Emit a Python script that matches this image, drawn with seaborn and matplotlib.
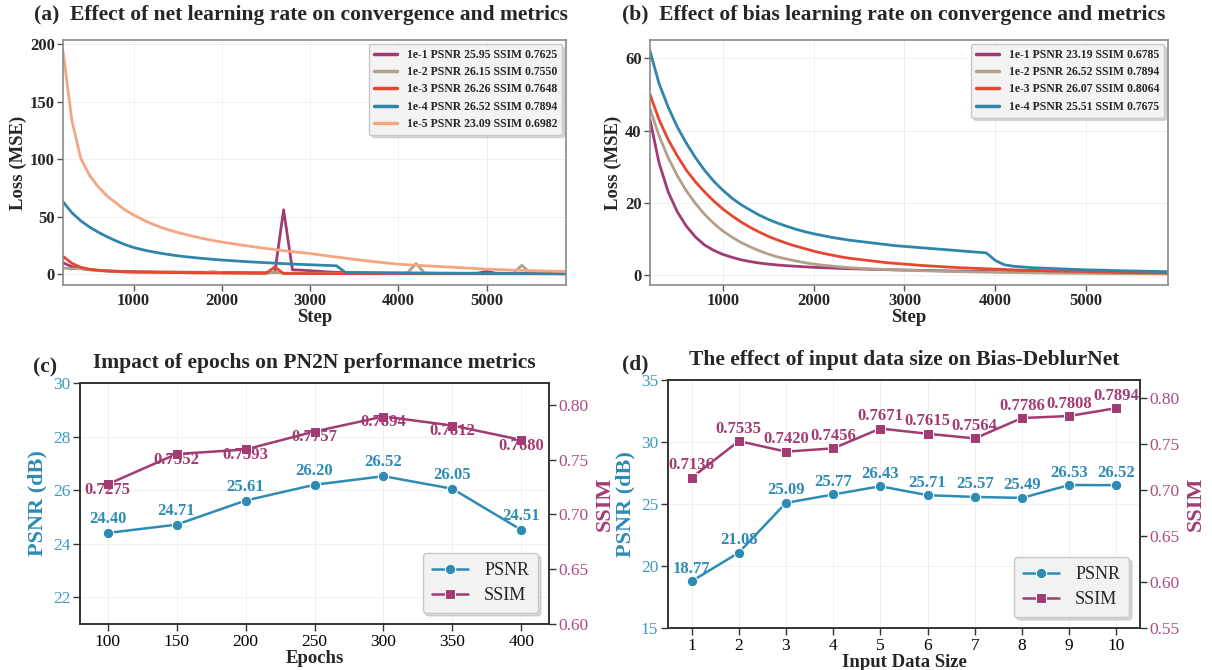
import numpy as np
import pandas as pd
import matplotlib.pyplot as plt
import seaborn as sns

sns.set_style("whitegrid", {"grid.color": "#ededed", "grid.linestyle": "-"})
plt.rcParams['font.family'] = ['Liberation Serif', 'DejaVu Serif']

# ---------------- data ----------------
steps = [200, 300, 400, 500, 600, 700, 800, 900, 1000, 1100,
         1200, 1300, 1400, 1500, 1600, 1700, 1800, 1900, 2000, 2100,
         2200, 2300, 2400, 2500, 2600, 2700, 2800, 2900, 3000, 3100,
         3200, 3300, 3400, 3500, 3600, 3700, 3800, 3900, 4000, 4100,
         4200, 4300, 4400, 4500, 4600, 4700, 4800, 4900, 5000, 5100,
         5200, 5300, 5400, 5500, 5600, 5700, 5800, 5900]

# (a) net learning rate
net_lr1 = [10, 6.5, 4.8, 3.9, 3.3, 2.9, 2.6, 2.4, 2.2, 2.1,
           2.0, 1.9, 1.85, 1.8, 1.75, 1.7, 1.65, 1.6, 1.55, 1.5,
           1.45, 1.4, 1.35, 1.3, 1.3, 56, 3.8, 3.5, 3.0, 2.5,
           2.0, 1.6, 1.4, 1.3, 1.2, 1.15, 1.1, 1.05, 1.0, 0.95,
           0.9, 0.9, 0.85, 0.85, 0.8, 0.8, 0.8, 0.9, 2.4, 0.9,
           0.75, 0.7, 0.7, 0.65, 0.65, 0.6, 0.6, 0.6]
net_lr2 = [5.5, 4.6, 4.9, 4.0, 3.1, 2.7, 2.2, 1.9, 1.7, 1.6,
           1.9, 1.5, 1.4, 1.5, 1.3, 1.2, 1.2, 2.3, 1.2, 1.1,
           1.0, 1.0, 0.95, 0.9, 1.6, 0.9, 0.85, 0.85, 0.8, 0.8,
           0.8, 0.75, 0.75, 0.7, 0.7, 0.7, 0.7, 0.65, 0.65, 0.9,
           9.2, 0.9, 0.6, 0.6, 0.6, 0.55, 0.55, 0.55, 0.5, 0.5,
           0.5, 0.8, 7.7, 0.8, 0.45, 0.45, 0.45, 0.4]
net_lr3 = [15.5, 9.5, 6, 4.3, 3.4, 2.8, 2.4, 2.1, 1.9, 1.8,
           1.7, 1.6, 1.5, 1.4, 1.3, 1.2, 1.15, 1.1, 1.0, 0.95,
           0.9, 0.85, 0.8, 0.8, 6.2, 0.6, 0.55, 0.5, 0.5, 0.48,
           0.46, 0.45, 0.44, 0.43, 0.42, 0.41, 0.4, 0.39, 0.38, 0.37,
           0.36, 0.35, 0.35, 0.34, 0.34, 0.33, 0.33, 0.32, 0.32, 0.31,
           0.31, 0.3, 0.3, 0.3, 0.29, 0.29, 0.28, 0.28]
net_lr4 = [63, 53.5, 46.5, 41, 36.5, 32.5, 29, 25.8, 23.2, 21.3,
           19.7, 18.3, 17.1, 16.0, 15.1, 14.3, 13.6, 12.9, 12.3, 11.8,
           11.3, 10.8, 10.4, 10.0, 9.6, 9.2, 8.8, 8.5, 8.2, 7.9,
           7.6, 7.3, 1.5, 1.4, 1.3, 1.25, 1.2, 1.1, 1.05, 1.0,
           0.95, 0.9, 0.85, 0.8, 0.8, 0.75, 0.7, 0.7, 0.65, 0.6,
           0.6, 0.55, 0.55, 0.5, 0.5, 0.5, 0.45, 0.45]
net_lr5 = [194, 134, 101, 86, 76, 68, 62, 56, 51.5, 47.5,
           44, 41, 38.5, 36.3, 34.3, 32.5, 30.8, 29.3, 28, 26.8,
           25.6, 24.5, 23.4, 22.4, 21.4, 20.5, 19.6, 18.8, 18, 16.9,
           15.9, 14.9, 13.9, 12.9, 12, 11.1, 10.3, 9.5, 8.7, 8.2,
           7.8, 7.3, 6.9, 6.5, 6.1, 5.7, 5.3, 4.8, 4.4, 4.1,
           3.8, 3.5, 3.3, 3.1, 2.9, 2.7, 2.5, 2.3]
net_labels = ["1e-1 PSNR 25.95 SSIM 0.7625", "1e-2 PSNR 26.15 SSIM 0.7550",
              "1e-3 PSNR 26.26 SSIM 0.7648", "1e-4 PSNR 26.52 SSIM 0.7894",
              "1e-5 PSNR 23.09 SSIM 0.6982"]

# (b) bias learning rate
bias_lr1 = [43, 31, 23, 17.5, 13.5, 10.5, 8.3, 6.8, 5.7, 4.9,
            4.2, 3.7, 3.3, 3.0, 2.75, 2.55, 2.4, 2.25, 2.1, 2.0,
            1.9, 1.8, 1.72, 1.65, 1.58, 1.5, 1.45, 1.4, 1.35, 1.3,
            1.25, 1.2, 1.15, 1.1, 1.06, 1.02, 0.98, 0.94, 0.9, 0.87,
            0.84, 0.81, 0.78, 0.75, 0.72, 0.7, 0.68, 0.66, 0.64, 0.62,
            0.6, 0.58, 0.56, 0.54, 0.52, 0.5, 0.48, 0.46]
bias_lr2 = [46, 38.5, 32.5, 27.5, 23.3, 19.8, 16.8, 14.3, 12.2, 10.5,
            9.0, 7.8, 6.7, 5.8, 5.0, 4.4, 3.9, 3.4, 3.0, 2.7,
            2.45, 2.2, 2.0, 1.85, 1.7, 1.6, 1.5, 1.4, 1.3, 1.22,
            1.15, 1.08, 1.02, 0.96, 0.9, 0.85, 0.8, 0.76, 0.72, 0.68,
            0.64, 0.6, 0.57, 0.54, 0.51, 0.48, 0.46, 0.44, 0.42, 0.4,
            0.38, 0.36, 0.34, 0.33, 0.32, 0.31, 0.3, 0.29]
bias_lr3 = [50, 43, 37.5, 33, 29, 25.8, 23, 20.5, 18.3, 16.4,
            14.7, 13.2, 11.9, 10.7, 9.7, 8.8, 8.0, 7.3, 6.6, 6.0,
            5.5, 5.0, 4.6, 4.3, 4.0, 3.7, 3.4, 3.2, 3.0, 2.8,
            2.6, 2.45, 2.3, 2.15, 2.0, 1.9, 1.8, 1.7, 1.6, 1.5,
            1.4, 1.3, 1.25, 1.2, 1.1, 1.05, 1.0, 0.95, 0.9, 0.85,
            0.8, 0.75, 0.7, 0.65, 0.6, 0.58, 0.55, 0.5]
bias_lr4 = [62, 53, 46.5, 41, 36.5, 32.5, 29, 26, 23.5, 21.3,
            19.5, 18, 16.6, 15.4, 14.4, 13.5, 12.7, 12, 11.4, 10.9,
            10.4, 10, 9.6, 9.3, 9, 8.7, 8.4, 8.1, 7.9, 7.7,
            7.5, 7.3, 7.1, 6.9, 6.7, 6.5, 6.3, 6.1, 4.0, 2.8,
            2.4, 2.2, 2.0, 1.9, 1.8, 1.7, 1.6, 1.5, 1.4, 1.35,
            1.3, 1.2, 1.15, 1.1, 1.05, 1.0, 0.95, 0.9]
bias_labels = ["1e-1 PSNR 23.19 SSIM 0.6785", "1e-2 PSNR 26.52 SSIM 0.7894",
               "1e-3 PSNR 26.07 SSIM 0.8064", "1e-4 PSNR 25.51 SSIM 0.7675"]

# (c) epochs
epochs = [100, 150, 200, 250, 300, 350, 400]
psnr_epochs = [24.40, 24.71, 25.61, 26.20, 26.52, 26.05, 24.51]
ssim_epochs = [0.7275, 0.7552, 0.7593, 0.7757, 0.7894, 0.7812, 0.7680]

# (d) input data size
data_size = [1, 2, 3, 4, 5, 6, 7, 8, 9, 10]
psnr_size = [18.77, 21.08, 25.09, 25.77, 26.43, 25.71, 25.57, 25.49, 26.53, 26.52]
ssim_size = [0.7136, 0.7535, 0.7420, 0.7456, 0.7671, 0.7615, 0.7564, 0.7786, 0.7808, 0.7894]

line_colors = ["#a23b72", "#b3a08a", "#e8472f", "#2e86ab", "#f4a582"]
PSNR_C = "#2e8bb3"
SSIM_C = "#a23b72"
PSNR_TICK = "#3d9bc3"
SSIM_TICK = "#b04a82"

W, H = 1212, 670


def box(l, t, r, b):
    return [l / W, 1 - b / H, (r - l) / W, (b - t) / H]


fig = plt.figure(figsize=(12.12, 6.7), dpi=100)


def loss_panel(ax, series, labels, yticks):
    for vals, lab, col in zip(series, labels, line_colors):
        sns.lineplot(x=steps, y=vals, ax=ax, color=col, lw=2, label=lab)
    ax.set_xlim(200, 5900)
    ax.set_xticks([1000, 2000, 3000, 4000, 5000])
    ax.set_yticks(yticks)
    ax.tick_params(axis='both', labelsize=12, length=4, width=1, color='#555555',
                   bottom=True, left=True, pad=2)
    plt.setp(ax.get_xticklabels() + ax.get_yticklabels(), fontweight='bold')
    ax.set_xlabel("Step", fontsize=13.5, fontweight='bold', labelpad=0)
    ax.set_ylabel("Loss (MSE)", fontsize=13.5, fontweight='bold', labelpad=2)
    for sp in ax.spines.values():
        sp.set_color('#8a8a8a')
        sp.set_linewidth(1.2)
    ax.grid(True, color='#eeeeee', lw=0.6)
    leg = ax.legend(loc='upper right', prop={'size': 8.5, 'weight': 'bold'},
                    frameon=True, facecolor='#f3f3f3', edgecolor='#c8c8c8',
                    framealpha=1, handlelength=2.0, borderaxespad=0.35,
                    labelspacing=0.45, shadow={'color': '#999999', 'alpha': 0.35})
    for lh in leg.get_lines():
        lh.set_linewidth(2.5)


# (a)
ax_a = fig.add_axes(box(63, 40, 566, 285))
loss_panel(ax_a, [net_lr1, net_lr2, net_lr3, net_lr4, net_lr5], net_labels,
           [0, 50, 100, 150, 200])
fig.text(34 / W, 1 - 15 / H, "(a)  Effect of net learning rate on convergence and metrics",
         fontsize=15.5, fontweight='bold', va='center', ha='left')

# (b)
ax_b = fig.add_axes(box(650, 40, 1168, 285))
loss_panel(ax_b, [bias_lr1, bias_lr2, bias_lr3, bias_lr4], bias_labels,
           [0, 20, 40, 60])
fig.text(622 / W, 1 - 15 / H, "(b)  Effect of bias learning rate on convergence and metrics",
         fontsize=15.5, fontweight='bold', va='center', ha='left')


def metric_panel(ax, x, psnr, ssim, xlim, xticks, ylim1, yticks1, ylim2, yticks2,
                 xlabel, title, tag, tag_x, psnr_off, ssim_off):
    ax2 = ax.twinx()
    sns.lineplot(x=x, y=psnr, ax=ax, color=PSNR_C, lw=1.8, marker='o',
                 markersize=7.5, label='PSNR')
    sns.lineplot(x=x, y=ssim, ax=ax2, color=SSIM_C, lw=1.8, marker='s',
                 markersize=7, label='SSIM')
    for xi, yi in zip(x, psnr):
        ax.annotate(f"{yi:.2f}", (xi, yi), xytext=(0, psnr_off), textcoords='offset points',
                    ha='center', va='center', fontsize=12, fontweight='bold', color=PSNR_C)
    for xi, yi in zip(x, ssim):
        ax2.annotate(f"{yi:.4f}", (xi, yi), xytext=(0, ssim_off), textcoords='offset points',
                     ha='center', va='center', fontsize=12, fontweight='bold', color=SSIM_C)
    ax.set_xlim(*xlim)
    ax.set_xticks(xticks)
    ax.set_ylim(*ylim1)
    ax.set_yticks(yticks1)
    ax2.set_ylim(*ylim2)
    ax2.set_yticks(yticks2)
    ax2.set_yticklabels([f"{v:.2f}" for v in yticks2])
    ax.tick_params(axis='x', labelsize=12.5, length=5, width=1, color='#333333',
                   bottom=True, labelcolor='black', pad=2)
    ax.tick_params(axis='y', labelsize=12.5, length=5, width=1, color='#333333',
                   left=True, labelcolor=PSNR_TICK, pad=2)
    ax2.tick_params(axis='y', labelsize=12.5, length=5, width=1, color='#333333',
                    right=True, labelcolor=SSIM_TICK, pad=2)
    ax.set_xlabel(xlabel, fontsize=13.5, fontweight='bold', labelpad=0)
    ax.set_ylabel("PSNR (dB)", fontsize=16, fontweight='bold', color=PSNR_C, labelpad=4)
    ax2.set_ylabel("SSIM", fontsize=16, fontweight='bold', color=SSIM_C, labelpad=4)
    for a in (ax, ax2):
        for sp in a.spines.values():
            sp.set_color('#333333')
            sp.set_linewidth(1.2)
    ax.grid(True, color='#eeeeee', lw=0.6)
    ax2.grid(False)
    ax.set_title(title, fontsize=15.5, fontweight='bold', pad=11)
    bb = ax.get_position()
    fig.text(tag_x / W, bb.y1 + 16 / H, tag, fontsize=15.5, fontweight='bold',
             va='center', ha='left')
    h1, l1 = ax.get_legend_handles_labels()
    h2, l2 = ax2.get_legend_handles_labels()
    if ax.get_legend() is not None:
        ax.get_legend().remove()
    ax2.legend(h1 + h2, l1 + l2, loc='lower right', fontsize=13, frameon=True,
               facecolor='#f2f2f2', edgecolor='#c8c8c8', framealpha=1,
               handlelength=2.0, handletextpad=0.9, borderpad=0.5,
               labelspacing=0.45, borderaxespad=0.6,
               shadow={'color': '#999999', 'alpha': 0.35})


# (c)
ax_c = fig.add_axes(box(80, 383, 549, 624))
metric_panel(ax_c, epochs, psnr_epochs, ssim_epochs, (80, 420), epochs,
             (21, 30), [22, 24, 26, 28, 30], (0.60, 0.82), [0.60, 0.65, 0.70, 0.75, 0.80],
             "Epochs", "Impact of epochs on PN2N performance metrics", "(c)", 33, 10, -4)

# (d)
ax_d = fig.add_axes(box(668, 380, 1140, 628))
metric_panel(ax_d, data_size, psnr_size, ssim_size, (0.5, 10.5), data_size,
             (15, 35), [15, 20, 25, 30, 35], (0.55, 0.82),
             [0.55, 0.60, 0.65, 0.70, 0.75, 0.80],
             "Input Data Size", "The effect of input data size on Bias-DeblurNet", "(d)", 622,
             9, 9)

fig.savefig("out.png", dpi=100)
